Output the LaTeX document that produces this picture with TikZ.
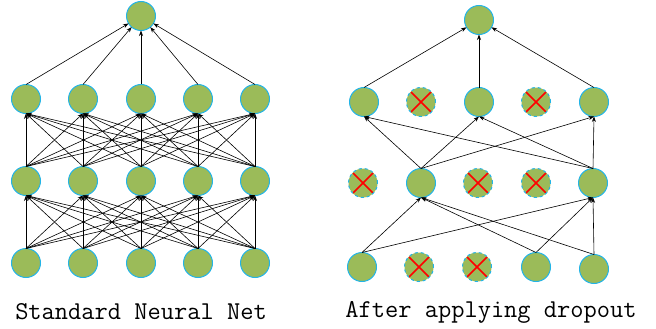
\documentclass[tikz,border=0pt]{standalone}
\usetikzlibrary{arrows.meta}
\definecolor{unitfill}{HTML}{9BBB59}
\definecolor{unitline}{HTML}{22B4E8}
\begin{document}
\begin{tikzpicture}[y=1pt, x=1pt, yscale=-1, inner sep=0pt, outer sep=0pt,
  unit/.style={circle, minimum size=29pt, fill=unitfill, draw=unitline, line width=1pt},
  dropped/.style={unit, dashed, path picture={
    \draw[red, solid, line width=1.6pt] (path picture bounding box.center) +(-10,-10) -- +(10,10)
      (path picture bounding box.center) +(-10,10) -- +(10,-10);}},
  link/.style={-{Stealth[length=5.5pt,width=4pt]}, line width=0.6pt},
  caption/.style={font=\fontsize{25.7}{30}\selectfont\ttfamily}]
\useasboundingbox (0,0) rectangle (656,329);
% standard net
\node[unit] (s0) at (141,16) {};
\foreach \i/\x in {1/26,2/83,3/141,4/198,5/255} {
  \node[unit] (s1-\i) at (\x,99) {};
  \node[unit] (s2-\i) at (\x,181) {};
  \node[unit] (s3-\i) at (\x,263) {};
}
\foreach \i in {1,...,5} {
  \draw[link] (s1-\i.north) -- (s0);
  \foreach \j in {1,...,5} {
    \draw[link] (s2-\j.north) -- (s1-\i.south);
    \draw[link] (s3-\j.north) -- (s2-\i.south);
  }
}
\node[caption] (stdtext) at (141,312) {Standard Neural Net};
% thinned net
\node[unit] (d0) at (479,20) {};
\node[unit] (d1-1) at (364,102) {};
\node[dropped] (d1-2) at (421,102) {};
\node[unit] (d1-3) at (479,102) {};
\node[dropped] (d1-4) at (536,102) {};
\node[unit] (d1-5) at (594,102) {};
\node[dropped] (d2-1) at (363,183) {};
\node[unit] (d2-2) at (421,183) {};
\node[dropped] (d2-3) at (478,183) {};
\node[dropped] (d2-4) at (536,183) {};
\node[unit] (d2-5) at (593,183) {};
\node[unit] (d3-1) at (362,267) {};
\node[dropped] (d3-2) at (419,267) {};
\node[dropped] (d3-3) at (477,267) {};
\node[unit] (d3-4) at (536,267) {};
\node[unit] (d3-5) at (594,269) {};
\foreach \i in {1,3,5} {
  \draw[link] (d1-\i.north) -- (d0);
  \foreach \j in {2,5}
    \draw[link] (d2-\j.north) -- (d1-\i.south);
}
\foreach \i in {1,4,5}
  \foreach \j in {2,5}
    \draw[link] (d3-\i.north) -- (d2-\j.south);
\node[caption] (droptext) at (491,312) {After applying dropout};
\end{tikzpicture}
\end{document}
